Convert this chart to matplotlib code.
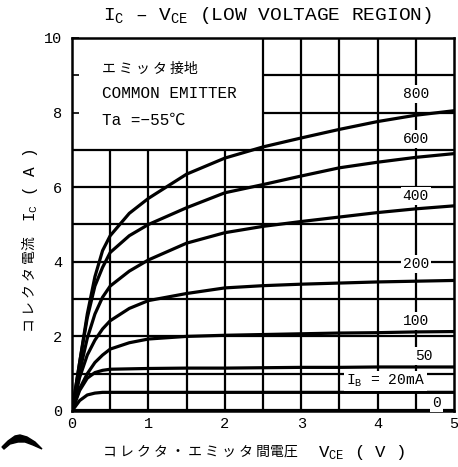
import matplotlib
matplotlib.use("Agg")
import matplotlib.pyplot as plt
import numpy as np
from matplotlib.patches import Polygon

plt.rcParams['mathtext.fontset'] = 'custom'
plt.rcParams['mathtext.rm'] = 'Liberation Mono'
plt.rcParams['mathtext.it'] = 'Liberation Mono'
plt.rcParams['mathtext.bf'] = 'Liberation Mono'

MONO = ['Liberation Mono', 'Noto Sans CJK JP', 'DejaVu Sans']
JP = ['Noto Sans CJK JP', 'DejaVu Sans']

# 曲線データ (VCE [V], IC [A])
vce = [0, 0.1, 0.2, 0.3, 0.4, 0.5, 0.75, 1.0, 1.5, 2.0, 2.5, 3.0, 3.5, 4.0, 4.5, 5.0]
ic_800 = [0, 1.3, 2.6, 3.6, 4.3, 4.7, 5.3, 5.7, 6.35, 6.78, 7.08, 7.32, 7.55, 7.76, 7.93, 8.05]
ic_600 = [0, 1.3, 2.5, 3.35, 3.85, 4.25, 4.7, 5.0, 5.45, 5.85, 6.07, 6.3, 6.52, 6.67, 6.8, 6.9]
ic_400 = [0, 1.05, 1.95, 2.6, 3.05, 3.35, 3.75, 4.05, 4.5, 4.78, 4.95, 5.08, 5.2, 5.32, 5.42, 5.5]
ic_200 = [0, 0.9, 1.5, 1.9, 2.2, 2.42, 2.75, 2.96, 3.15, 3.3, 3.36, 3.4, 3.43, 3.46, 3.48, 3.5]
ic_100 = [0, 0.6, 1.0, 1.3, 1.5, 1.66, 1.83, 1.93, 2.0, 2.03, 2.05, 2.07, 2.09, 2.1, 2.12, 2.13]
ic_50 = [0, 0.55, 0.88, 1.03, 1.09, 1.12, 1.13, 1.14, 1.15, 1.15, 1.16, 1.17, 1.17, 1.18, 1.18, 1.18]
ic_20 = [0, 0.28, 0.43, 0.48, 0.5, 0.5, 0.5, 0.5, 0.5, 0.5, 0.5, 0.5, 0.5, 0.5, 0.5, 0.5]
ic_0 = [0.02] * len(vce)
curves = [ic_800, ic_600, ic_400, ic_200, ic_100, ic_50, ic_20, ic_0]

# ラベル (文字, V, I)
labels = ['800', '600', '400', '200', '100', '50', 'I$_B$ = 20mA', '0']
label_v = [4.5, 4.5, 4.5, 4.5, 4.5, 4.6, 4.1, 4.77]
label_i = [8.5, 7.3, 5.77, 3.95, 2.42, 1.48, 0.8, 0.21]

xticks = [0, 1, 2, 3, 4, 5]
yticks = [0, 2, 4, 6, 8, 10]

W, H = 458, 467
fig = plt.figure(figsize=(W / 100, H / 100), dpi=100)
ax = fig.add_axes([72 / W, 1 - 411 / H, 382 / W, 373 / H])
ax.set_xlim(0, 5)
ax.set_ylim(0, 10)

# グリッド (左上の枠の中は線なし)
box_v, box_i = 2.5, 7
gv = np.arange(0.5, 5, 0.5)
gi = np.arange(1, 10)
ax.vlines(gv, 0, np.where(gv >= box_v, 10, box_i), colors='black',
          linewidths=1.6, zorder=1, snap=True)
ax.hlines(gi, np.where(gi > box_i, box_v, 0), 5, colors='black',
          linewidths=1.6, zorder=1, snap=True)

for c in curves:
    ax.plot(vce, c, color='black', lw=2.3, solid_capstyle='round', zorder=2)

for s, v, i in zip(labels, label_v, label_i):
    ax.text(v, i, s, ha='center', va='center', fontsize=10.5, family=MONO,
            bbox=dict(facecolor='white', edgecolor='none', pad=1.5), zorder=3)

ax.text(0.39, 9.17, 'エ ミ ッ タ 接地', ha='left', va='center', fontsize=10, family=JP)
ax.text(0.39, 8.5, 'COMMON EMITTER', ha='left', va='center', fontsize=11.5, family=MONO)
ax.text(0.39, 7.8, 'Ta =−55℃', ha='left', va='center', fontsize=11.5, family=MONO)

ax.set_xticks(xticks)
ax.set_yticks(yticks)
ax.set_xticklabels([str(t) for t in xticks], family=MONO, fontsize=11)
ax.set_yticklabels([str(t) for t in yticks], family=MONO, fontsize=11)
ax.tick_params(axis='x', length=0, pad=4)
ax.tick_params(axis='y', direction='in', length=5, width=1.2, pad=7)
ax.set_yticks([7, 9], minor=True)
ax.tick_params(axis='y', which='minor', direction='in', length=5, width=1.2)
for sp in ax.spines.values():
    sp.set_linewidth(1.8)

fig.text(267 / W, 1 - 15 / H, 'I$_C$ – V$_{CE}$ (LOW VOLTAGE REGION)',
         ha='center', va='center', fontsize=14, family=MONO)

fig.text(200 / W, 1 - 452 / H, 'コ レ ク タ ・ エ ミ ッ タ 間電圧', ha='center', va='center',
         fontsize=10, family=JP)
fig.text(362 / W, 1 - 452 / H, 'V$_{CE}$ ( V )', ha='center', va='center',
         fontsize=12.5, family=MONO)

fig.text(30 / W, 1 - 284 / H, 'コ レ ク タ 電流', ha='center', va='center', rotation=90,
         fontsize=10, family=JP)
fig.text(30 / W, 1 - 185 / H, 'I$_C$ ( A )', ha='center', va='center', rotation=90,
         fontsize=11.5, family=MONO)

# 左下のかすれ
swoosh = [(2, 447), (8, 441), (15, 436), (20, 435), (27, 437), (35, 442), (42, 449),
          (33, 445), (25, 442), (18, 442), (10, 444), (4, 449)]
fig.patches.append(Polygon([(x / W, 1 - y / H) for x, y in swoosh], closed=True,
                           facecolor='black', edgecolor='black',
                           transform=fig.transFigure, figure=fig))

fig.savefig('out.png', dpi=100, facecolor='white')
